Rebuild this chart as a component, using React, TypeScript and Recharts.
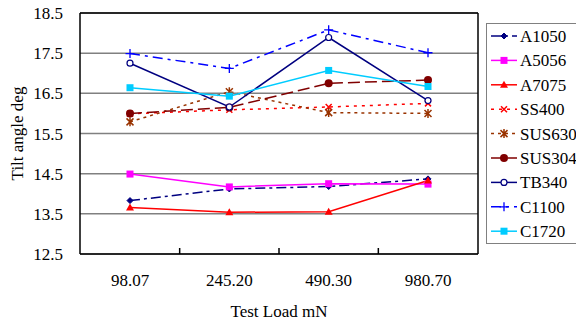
import { CartesianGrid, Legend, Line, LineChart, ReferenceLine, XAxis, YAxis } from 'recharts';

const loads = ['98.07', '245.20', '490.30', '980.70'];
const yTicks = [12.5, 13.5, 14.5, 15.5, 16.5, 17.5, 18.5];

const a1050 = [13.83, 14.12, 14.18, 14.37];
const a5056 = [14.49, 14.17, 14.25, 14.24];
const a7075 = [13.66, 13.54, 13.55, 14.33];
const ss400 = [15.99, 16.09, 16.16, 16.25];
const sus630 = [15.79, 16.54, 16.02, 16.0];
const sus304 = [16.0, 16.15, 16.75, 16.83];
const tb340 = [17.25, 16.16, 17.89, 16.32];
const c1100 = [17.49, 17.12, 18.08, 17.51];
const c1720 = [16.64, 16.43, 17.07, 16.67];

type MarkerType = 'diamond' | 'square' | 'triangle' | 'cross' | 'star' | 'dot' | 'ring' | 'plus';

const SERIES: { name: string; values: number[]; color: string; dash?: string; marker: MarkerType }[] = [
  { name: 'A1050', values: a1050, color: '#000080', dash: '10 4 3 4', marker: 'diamond' },
  { name: 'A5056', values: a5056, color: '#ff00ff', marker: 'square' },
  { name: 'A7075', values: a7075, color: '#ff0000', marker: 'triangle' },
  { name: 'SS400', values: ss400, color: '#ff0000', dash: '3 5', marker: 'cross' },
  { name: 'SUS630', values: sus630, color: '#993300', dash: '3 4', marker: 'star' },
  { name: 'SUS304', values: sus304, color: '#800000', dash: '12 5', marker: 'dot' },
  { name: 'TB340', values: tb340, color: '#000080', marker: 'ring' },
  { name: 'C1100', values: c1100, color: '#0000ff', dash: '10 5 3 5', marker: 'plus' },
  { name: 'C1720', values: c1720, color: '#00ccff', marker: 'square' },
];

const data = loads.map((load, i) => {
  const row: Record<string, string | number> = { load };
  SERIES.forEach((s) => (row[s.name] = s.values[i]));
  return row;
});

const FONT = '"Liberation Serif", "Times New Roman", serif';
const W = 576;
const H = 322;
const MARGIN = { top: 13, right: 98, left: 0, bottom: 0 };
const Y_W = 80;
const X_H = 68;
const PAD = 50;
const PLOT_W = W - MARGIN.left - MARGIN.right - Y_W;
const STEP = (PLOT_W - PAD * 2) / (loads.length - 1);
const TICK_GAP = 20;

function Marker({ type, cx, cy, color }: { type: MarkerType; cx: number; cy: number; color: string }) {
  switch (type) {
    case 'diamond':
      return <polygon points={`${cx},${cy - 3} ${cx + 3},${cy} ${cx},${cy + 3} ${cx - 3},${cy}`} fill={color} stroke={color} />;
    case 'square':
      return <rect x={cx - 3.5} y={cy - 3.5} width={7} height={7} fill={color} />;
    case 'triangle':
      return <polygon points={`${cx},${cy - 4} ${cx + 4},${cy + 3} ${cx - 4},${cy + 3}`} fill={color} />;
    case 'cross':
      return <path d={`M${cx - 3},${cy - 3}L${cx + 3},${cy + 3}M${cx - 3},${cy + 3}L${cx + 3},${cy - 3}`} stroke={color} strokeWidth={1.5} />;
    case 'star':
      return (
        <path
          d={`M${cx - 3.5},${cy - 3.5}L${cx + 3.5},${cy + 3.5}M${cx - 3.5},${cy + 3.5}L${cx + 3.5},${cy - 3.5}M${cx},${cy - 4.5}L${cx},${cy + 4.5}`}
          stroke={color}
          strokeWidth={1.5}
        />
      );
    case 'dot':
      return <circle cx={cx} cy={cy} r={4} fill={color} />;
    case 'ring':
      return <circle cx={cx} cy={cy} r={3} fill="#fff" stroke={color} strokeWidth={1.2} />;
    case 'plus':
      return <path d={`M${cx - 4.5},${cy}L${cx + 4.5},${cy}M${cx},${cy - 4.5}L${cx},${cy + 4.5}`} stroke={color} strokeWidth={1.3} />;
  }
}

function LoadTick(props: any) {
  const { x, y, payload, index } = props;
  const axisY = y - TICK_GAP;
  return (
    <g>
      {index < loads.length - 1 && (
        <line x1={x + STEP / 2} x2={x + STEP / 2} y1={axisY} y2={axisY - 6} stroke="#000" strokeWidth={1.5} />
      )}
      <text x={x} y={y} dy="0.71em" textAnchor="middle" fill="#000" fontSize={17} fontFamily={FONT}>
        {payload.value}
      </text>
    </g>
  );
}

function SeriesLegend() {
  const rowH = 24.4;
  return (
    <svg width={100} height={221} style={{ display: 'block' }}>
      <rect x={0.5} y={0.5} width={110} height={220} fill="#fff" stroke="#808080" />
      {SERIES.map((s, i) => {
        const cy = 13 + i * rowH;
        return (
          <g key={s.name}>
            <line x1={5} x2={31} y1={cy} y2={cy} stroke={s.color} strokeWidth={1.5} strokeDasharray={s.dash} />
            <Marker type={s.marker} cx={18} cy={cy} color={s.color} />
            <text x={34} y={cy + 6} fontSize={17} fontFamily={FONT} fill="#000">
              {s.name}
            </text>
          </g>
        );
      })}
    </svg>
  );
}

export default function App() {
  return (
    <div style={{ position: 'absolute', left: 0, top: 0, width: W, height: H, overflow: 'hidden', background: '#fff' }}>
      <LineChart width={W} height={H} data={data} margin={MARGIN}>
        <CartesianGrid vertical={false} stroke="#808080" strokeWidth={1.5} />
        <CartesianGrid
          horizontal={false}
          verticalCoordinatesGenerator={({ offset }: any) => [offset.left + offset.width]}
          stroke="#000"
          strokeWidth={1.5}
        />
        <ReferenceLine y={18.5} stroke="#000" strokeWidth={1.5} />
        <XAxis
          dataKey="load"
          height={X_H}
          padding={{ left: PAD, right: PAD }}
          axisLine={{ stroke: '#000', strokeWidth: 1.5 }}
          tickLine={false}
          tickSize={0}
          tickMargin={TICK_GAP}
          tick={<LoadTick />}
          interval={0}
          label={{
            content: ({ viewBox }: any) => (
              <text
                x={viewBox.x + viewBox.width / 2}
                y={viewBox.y + 63}
                textAnchor="middle"
                fontSize={17}
                fontFamily={FONT}
                fill="#000"
              >
                Test Load mN
              </text>
            ),
          }}
        />
        <YAxis
          width={Y_W}
          domain={[12.5, 18.5]}
          ticks={yTicks}
          interval={0}
          tickFormatter={(v: number) => v.toFixed(1)}
          axisLine={{ stroke: '#000', strokeWidth: 1.5 }}
          tickLine={false}
          tickMargin={11}
          tick={{ fill: '#000', fontSize: 17, fontFamily: FONT }}
          label={{
            content: ({ viewBox }: any) => {
              const cx = 17;
              const cy = viewBox.y + viewBox.height / 2;
              return (
                <text
                  x={cx}
                  y={cy}
                  transform={`rotate(-90 ${cx} ${cy})`}
                  textAnchor="middle"
                  dominantBaseline="central"
                  fontSize={17}
                  fontFamily={FONT}
                  fill="#000"
                >
                  Tilt angle deg
                </text>
              );
            },
          }}
        />
        <Legend
          layout="vertical"
          align="center"
          verticalAlign="middle"
          content={() => <SeriesLegend />}
          wrapperStyle={{ left: 486, top: 23, width: 100, height: 221 }}
        />
        {SERIES.map((s) => (
          <Line
            key={s.name}
            dataKey={s.name}
            stroke={s.color}
            strokeWidth={1.5}
            strokeDasharray={s.dash}
            isAnimationActive={false}
            dot={(p: any) => <Marker key={`${s.name}-${p.index}`} type={s.marker} cx={p.cx} cy={p.cy} color={s.color} />}
            activeDot={false}
          />
        ))}
      </LineChart>
    </div>
  );
}
